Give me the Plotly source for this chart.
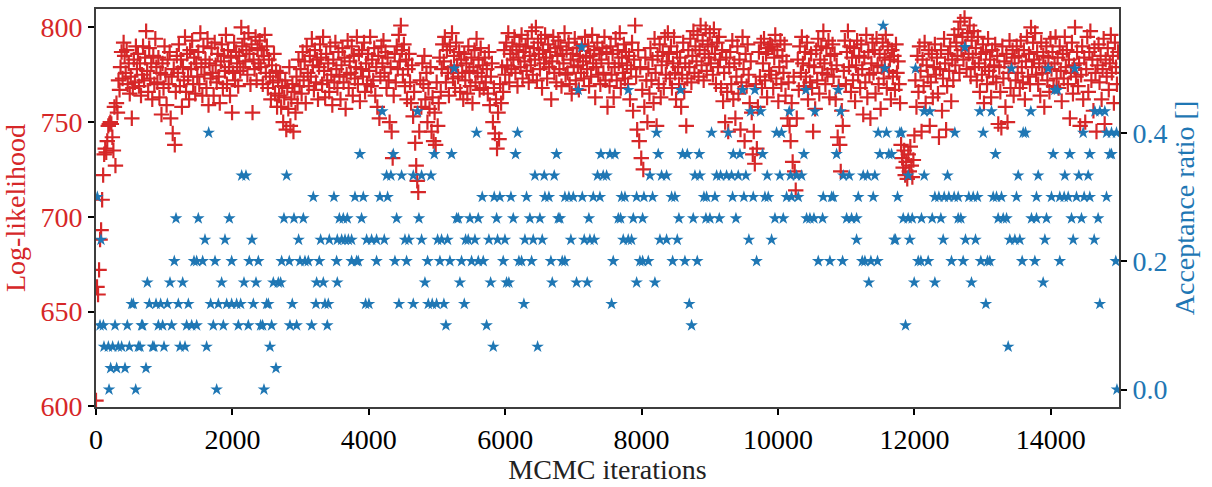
import numpy as np
import plotly.graph_objects as go

# ---------------- data ----------------
ll_step = 15  # iterations between stored log-likelihood samples
log_likelihood = [
    603, 663, 659, 672, 688, 693, 709, 722, 733, 736, 734, 740, 748, 749, 750, 749, 742, 735, 758, 727,
    760, 755, 772, 767, 779, 787, 773, 792, 785, 776, 788, 770, 781, 765, 774, 752, 768, 783, 771, 790,
    778, 786, 769, 781, 764, 775, 790, 772, 784, 798, 777, 766, 789, 773, 781, 762, 785, 770, 794, 779,
    771, 784, 763, 776, 754, 781, 768, 790, 775, 759, 783, 770, 787, 752, 774, 744, 778, 738, 766, 785,
    776, 791, 769, 783, 758, 779, 772, 795, 766, 786, 774, 762, 788, 778, 793, 770, 784, 765, 781, 774,
    787, 770, 797, 779, 764, 790, 775, 783, 768, 794, 759, 781, 773, 789, 776, 764, 792, 780, 771, 786,
    774, 760, 782, 791, 768, 785, 777, 796, 770, 788, 779, 764, 784, 755, 776, 792, 772, 787, 781, 769,
    785, 777, 800, 790, 779, 794, 782, 788, 775, 797, 786, 770, 791, 755, 783, 778, 795, 772, 789, 781,
    793, 779, 788, 770, 785, 796, 776, 790, 768, 783, 774, 762, 780, 771, 786, 765, 777, 758, 772, 764,
    776, 758, 769, 750, 763, 772, 746, 768, 757, 779, 748, 762, 770, 745, 766, 755, 774, 760, 783, 769,
    778, 765, 787, 772, 782, 760, 790, 776, 769, 785, 774, 794, 780, 767, 788, 771, 783, 762, 779, 791,
    784, 770, 795, 777, 763, 786, 772, 781, 766, 790, 775, 759, 783, 771, 792, 778, 768, 787, 774, 762,
    780, 789, 771, 784, 757, 775, 793, 768, 782, 776, 790, 764, 785, 773, 779, 795, 770, 786, 761, 778,
    788, 774, 792, 766, 781, 770, 786, 777, 795, 769, 783, 772, 789, 764, 779, 758, 785, 752, 774, 790,
    781, 793, 776, 787, 768, 784, 772, 750, 779, 745, 731, 764, 786, 771, 790, 778, 796, 782, 801, 788,
    775, 791, 769, 783, 762, 778, 786, 771, 760, 780, 753, 766, 739, 727, 719, 713, 745, 772, 758, 781,
    770, 785, 762, 776, 750, 768, 757, 779, 745, 763, 740, 755, 738, 771, 748, 760, 784, 766, 778, 791,
    782, 795, 771, 788, 776, 764, 790, 779, 797, 773, 785, 768, 792, 780, 774, 787, 766, 783, 776, 762,
    786, 772, 781, 765, 790, 777, 769, 784, 760, 779, 788, 771, 794, 776, 783, 767, 789, 774, 780, 768,
    784, 771, 778, 765, 787, 759, 774, 781, 750, 768, 744, 762, 736, 755, 741, 770, 760, 779, 766, 788,
    775, 792, 780, 797, 771, 786, 778, 790, 783, 795, 776, 788, 769, 784, 791, 779, 796, 773, 787, 782,
    790, 777, 794, 771, 785, 780, 798, 775, 789, 783, 800, 772, 792, 786, 778, 794, 768, 788, 781, 796,
    784, 773, 791, 779, 787, 762, 782, 795, 776, 789, 771, 785, 793, 778, 790, 769, 786, 781, 797, 775,
    788, 776, 792, 770, 783, 765, 786, 779, 794, 772, 789, 780, 767, 785, 776, 791, 782, 773, 795, 784,
    778, 790, 769, 785, 774, 796, 781, 788, 763, 779, 792, 775, 786, 770, 783, 789, 776, 795, 772, 787,
    758, 781, 769, 790, 775, 786, 763, 779, 794, 772, 788, 781, 797, 768, 784, 776, 791, 773, 787, 780,
    770, 785, 762, 778, 792, 756, 783, 801, 774, 746, 788, 740, 779, 731, 767, 725, 758, 784, 772, 750,
    778, 765, 789, 772, 783, 760, 794, 776, 748, 785, 770, 791, 763, 780, 787, 768, 795, 775, 782, 797,
    786, 773, 790, 768, 781, 795, 776, 762, 787, 779, 770, 784, 758, 775, 792, 766, 781, 748, 773, 788,
    779, 794, 771, 785, 798, 776, 790, 782, 796, 774, 788, 801, 780, 793, 772, 786, 799, 777, 791, 784,
    797, 781, 790, 775, 799, 786, 770, 792, 779, 795, 783, 768, 788, 761, 776, 750, 784, 766, 745, 779,
    787, 770, 793, 762, 781, 752, 774, 790, 765, 783, 746, 771, 795, 778, 740, 786, 769, 791, 775, 760,
    782, 755, 733, 745, 728, 770, 736, 758, 787, 774, 792, 768, 781, 794, 772, 786, 763, 789, 777, 791,
    775, 790, 768, 784, 796, 773, 788, 761, 779, 793, 770, 785, 776, 791, 764, 782, 752, 771, 748, 740,
    760, 729, 774, 724, 714, 752, 783, 767, 790, 776, 795, 781, 769, 787, 774, 792, 762, 780, 771, 786,
    768, 745, 779, 757, 788, 772, 794, 765, 783, 790, 776, 798, 781, 770, 789, 775, 793, 763, 785, 778,
    791, 774, 786, 762, 780, 742, 769, 738, 724, 756, 748, 777, 793, 770, 787, 798, 779, 790, 766, 784,
    772, 789, 761, 780, 793, 775, 785, 768, 791, 778, 754, 784, 771, 796, 763, 787, 775, 752, 781, 792,
    776, 788, 765, 794, 780, 770, 786, 757, 779, 792, 773, 784, 796, 768, 790, 777, 783, 762, 788, 774,
    785, 767, 791, 776, 782, 770, 760, 738, 731, 726, 735, 722, 729, 720, 733, 724, 737, 727, 721, 730,
    743, 772, 758, 785, 766, 790, 777, 745, 783, 769, 792, 760, 780, 774, 788, 748, 771, 786, 763, 779,
    791, 775, 784, 765, 742, 778, 788, 756, 773, 794, 781, 746, 769, 786, 777, 790, 761, 783, 772, 796,
    780, 792, 785, 799, 776, 803, 788, 795, 783, 805, 790, 778, 797, 786, 801, 774, 793, 784, 798, 779,
    789, 772, 795, 781, 766, 786, 775, 791, 760, 779, 787, 770, 794, 777, 783, 763, 788, 774, 780, 791,
    771, 785, 749, 779, 766, 747, 790, 773, 782, 758, 786, 750, 776, 793, 768, 781, 788, 764, 784, 772,
    790, 776, 785, 768, 793, 779, 771, 788, 762, 782, 795, 774, 786, 770, 800, 779, 792, 783, 797, 775,
    787, 770, 781, 764, 792, 776, 785, 758, 779, 790, 772, 784, 766, 794, 778, 787, 769, 781, 795, 773,
    784, 768, 790, 777, 761, 786, 773, 795, 779, 788, 770, 783, 752, 776, 792, 765, 780, 800, 774, 787,
    769, 781, 748, 775, 790, 762, 784, 750, 778, 795, 766, 787, 798, 772, 783, 756, 789, 776, 745, 780,
    791, 771, 785, 762, 778, 794, 749, 783, 774, 789, 767, 781, 796, 776, 785, 760, 792, 779, 770, 787,
]

# acceptance ratio: accepted moves out of a 30-iteration window; iterations per accepted count
acc_window = 30
acc_k00 = [191, 582, 1769, 2463, 14970]
acc_k01 = [215, 303, 425, 733, 2639]
acc_k02 = [117, 181, 244, 327, 376, 489, 621, 645, 831, 850, 997, 1232, 1305, 1622, 2551, 5825, 6475, 13375]
acc_k03 = [59, 108, 279, 459, 669, 684, 914, 977, 1109, 1329, 1403, 1476, 1720, 1867, 2087, 2233, 2414,
           2443, 2575, 2844, 2942, 3162, 3391, 5131, 5727, 8733, 11870]
acc_k04 = [523, 547, 782, 880, 948, 1046, 1207, 1354, 1681, 1794, 1916, 1989, 2062, 2121, 2307, 2502, 2527,
           2878, 3225, 3357, 3406, 3953, 4002, 4442, 4652, 4872, 4930, 4994, 5101, 5400, 6274, 7560, 8699,
           13048, 14719]
acc_k05 = [753, 1085, 1271, 1842, 2170, 2346, 2600, 2673, 2707, 3235, 3333, 3538, 4823, 5336, 5786, 6020,
           6054, 6690, 7046, 7203, 7927, 8195, 11332, 11997, 12300, 12837, 13888]
acc_k06 = [1148, 1437, 1476, 1564, 1745, 1989, 2248, 2380, 2722, 2834, 2991, 3064, 3113, 3274, 3528, 3748,
           3821, 3845, 4114, 4383, 4554, 4862, 5043, 5189, 5360, 5507, 5605, 5678, 5971, 6201, 6240, 6387,
           6670, 6836, 6875, 7584, 7975, 8015, 8098, 8455, 8635, 8816, 9686, 10590, 10761, 10947, 11235,
           11274, 11362, 11459, 12056, 12095, 12202, 12544, 12715, 12974, 13072, 13106, 13580, 13766, 14132,
           14953]
acc_k07 = [73, 1598, 1891, 2287, 2971, 3294, 3421, 3538, 3602, 3651, 3700, 3748, 3968, 4041, 4114, 4227,
           4530, 4588, 4774, 5009, 5067, 5155, 5419, 5458, 5556, 5761, 5888, 5996, 6289, 6411, 6543, 6963,
           7159, 7242, 7305, 7731, 7804, 7853, 8269, 8366, 8523, 9573, 9906, 11152, 11704, 11723, 11933,
           12422, 12749, 12896, 13399, 13473, 13546, 13913, 14328, 14636]
acc_k08 = [1173, 1500, 1955, 2756, 2903, 3040, 3568, 3626, 3685, 3894, 4408, 4735, 5287, 5312, 5483, 5605,
           5874, 6118, 6362, 6509, 6778, 6802, 7227, 7658, 7692, 7878, 8015, 8547, 8757, 8943, 9002, 9139,
           9383, 9955, 10077, 10419, 10468, 10527, 10654, 11006, 11079, 11152, 11836, 11909, 11968, 12104,
           12261, 12388, 12642, 12681, 13228, 13302, 13351, 13717, 13790, 13937, 14304, 14450, 14694]
acc_k09 = [20, 3186, 3489, 3797, 3919, 4163, 4276, 5663, 5839, 5922, 6084, 6313, 6582, 6641, 6875, 6934,
           6998, 7130, 7291, 7389, 7707, 7756, 7927, 8034, 8161, 8440, 8489, 8914, 8953, 9075, 9334, 9500,
           9637, 9808, 9857, 10126, 10199, 10297, 10663, 10786, 10810, 11177, 11396, 11753, 12300, 12359,
           12437, 12505, 12583, 12642, 12798, 12862, 12925, 13155, 13204, 13277, 13497, 13790, 14010, 14132,
           14196, 14255, 14377, 14489, 14572, 14817]
acc_k10 = [2136, 2199, 2795, 4261, 4324, 4481, 4652, 4774, 4911, 6436, 6572, 6719, 7354, 7437, 7487, 8122,
           8293, 8366, 8782, 8855, 9100, 9158, 9246, 9319, 9417, 9529, 9842, 10028, 10184, 10272, 10346,
           10957, 11045, 11249, 11313, 11420, 11909, 12144, 12486, 13522, 13815, 14206, 14411, 14548]
acc_k11 = [3870, 4359, 4960, 5214, 6152, 6753, 7403, 7536, 7609, 8244, 8601, 8670, 8845, 9344, 9442, 9774,
           10380, 10859, 11494, 11625, 11665, 13189, 14035, 14279, 14572, 14866, 14890]
acc_k12 = [1652, 5580, 6181, 8220, 9026, 9271, 9979, 10052, 11469, 11591, 11787, 11811, 12593, 13009, 13595,
           13629, 14475, 14817, 14890, 14963]
acc_k13 = [4197, 4715, 9598, 9745, 10165, 10541, 10917, 12144, 12227, 12960, 13131, 13707, 14646, 14719, 14792]
acc_k14 = [7071, 7804, 8572, 9481, 9661, 10409, 10883, 14059, 14098]
acc_k15 = [5253, 11567, 12016, 13424, 13961, 14352]
acc_k16 = [7120, 12740]
acc_k17 = [11542]

x_ticks = [0, 2000, 4000, 6000, 8000, 10000, 12000, 14000]
x_tick_labels = ["0", "2000", "4000", "6000", "8000", "10000", "12000", "14000"]
ll_ticks = [600, 650, 700, 750, 800]
acc_ticks = [0.0, 0.2, 0.4]

# ---------------- build ----------------
RED = "#d62728"
BLUE = "#1f77b4"
FONT = "Liberation Serif"

ll_iter = np.arange(len(log_likelihood)) * ll_step

acc_levels = [acc_k00, acc_k01, acc_k02, acc_k03, acc_k04, acc_k05, acc_k06, acc_k07, acc_k08,
              acc_k09, acc_k10, acc_k11, acc_k12, acc_k13, acc_k14, acc_k15, acc_k16, acc_k17]
acc_x, acc_y = [], []
for k, its in enumerate(acc_levels):
    for it in its:
        acc_x.append(it)
        acc_y.append(k / acc_window)
order = np.argsort(acc_x)
acc_x = np.array(acc_x)[order]
acc_y = np.array(acc_y)[order]

fig = go.Figure()
fig.add_trace(go.Scatter(
    x=ll_iter, y=log_likelihood, mode="markers", yaxis="y",
    marker=dict(symbol="cross-thin", size=11, color=RED, line=dict(color=RED, width=2.2)),
    showlegend=False,
))
fig.add_trace(go.Scatter(
    x=acc_x, y=acc_y, mode="markers", yaxis="y2",
    marker=dict(symbol="star", size=9.5, color=BLUE, line=dict(width=0)),
    showlegend=False,
))

frame = "#3d3d3d"
fig.update_layout(
    width=1212, height=487,
    margin=dict(l=96, r=93, t=7, b=77),
    paper_bgcolor="white", plot_bgcolor="white",
    font=dict(family=FONT, size=28, color="black"),
    xaxis=dict(
        range=[0, 15000], tickvals=x_ticks, ticktext=x_tick_labels, ticks="outside", ticklen=6,
        tickwidth=1.5, tickcolor="black", showline=True, linecolor=frame, linewidth=1.8, mirror=True,
        showgrid=False, zeroline=False, tickfont=dict(size=28, color="black", family=FONT),
        title=dict(text="MCMC iterations", font=dict(size=28, family=FONT, color="#222"), standoff=6),
    ),
    yaxis=dict(
        range=[599.6, 809.7], tickvals=ll_ticks, ticks="outside", ticklen=6, tickwidth=1.5,
        tickcolor="black", showline=True, linecolor=frame, linewidth=1.8,
        showgrid=False, zeroline=False, tickfont=dict(size=28, color=RED, family=FONT),
        title=dict(text="Log-likelihood", font=dict(size=28, family=FONT, color=RED), standoff=10),
    ),
    yaxis2=dict(
        range=[-0.0272, 0.5928], tickvals=acc_ticks, tickformat=".1f", overlaying="y", side="right",
        ticks="outside", ticklen=6, tickwidth=1.5, tickcolor="black",
        showline=True, linecolor=frame, linewidth=1.8,
        showgrid=False, zeroline=False, tickfont=dict(size=28, color=BLUE, family=FONT),
        title=dict(text="Acceptance ratio []", font=dict(size=28, family=FONT, color=BLUE), standoff=8),
    ),
)

fig.write_html("out.html")
